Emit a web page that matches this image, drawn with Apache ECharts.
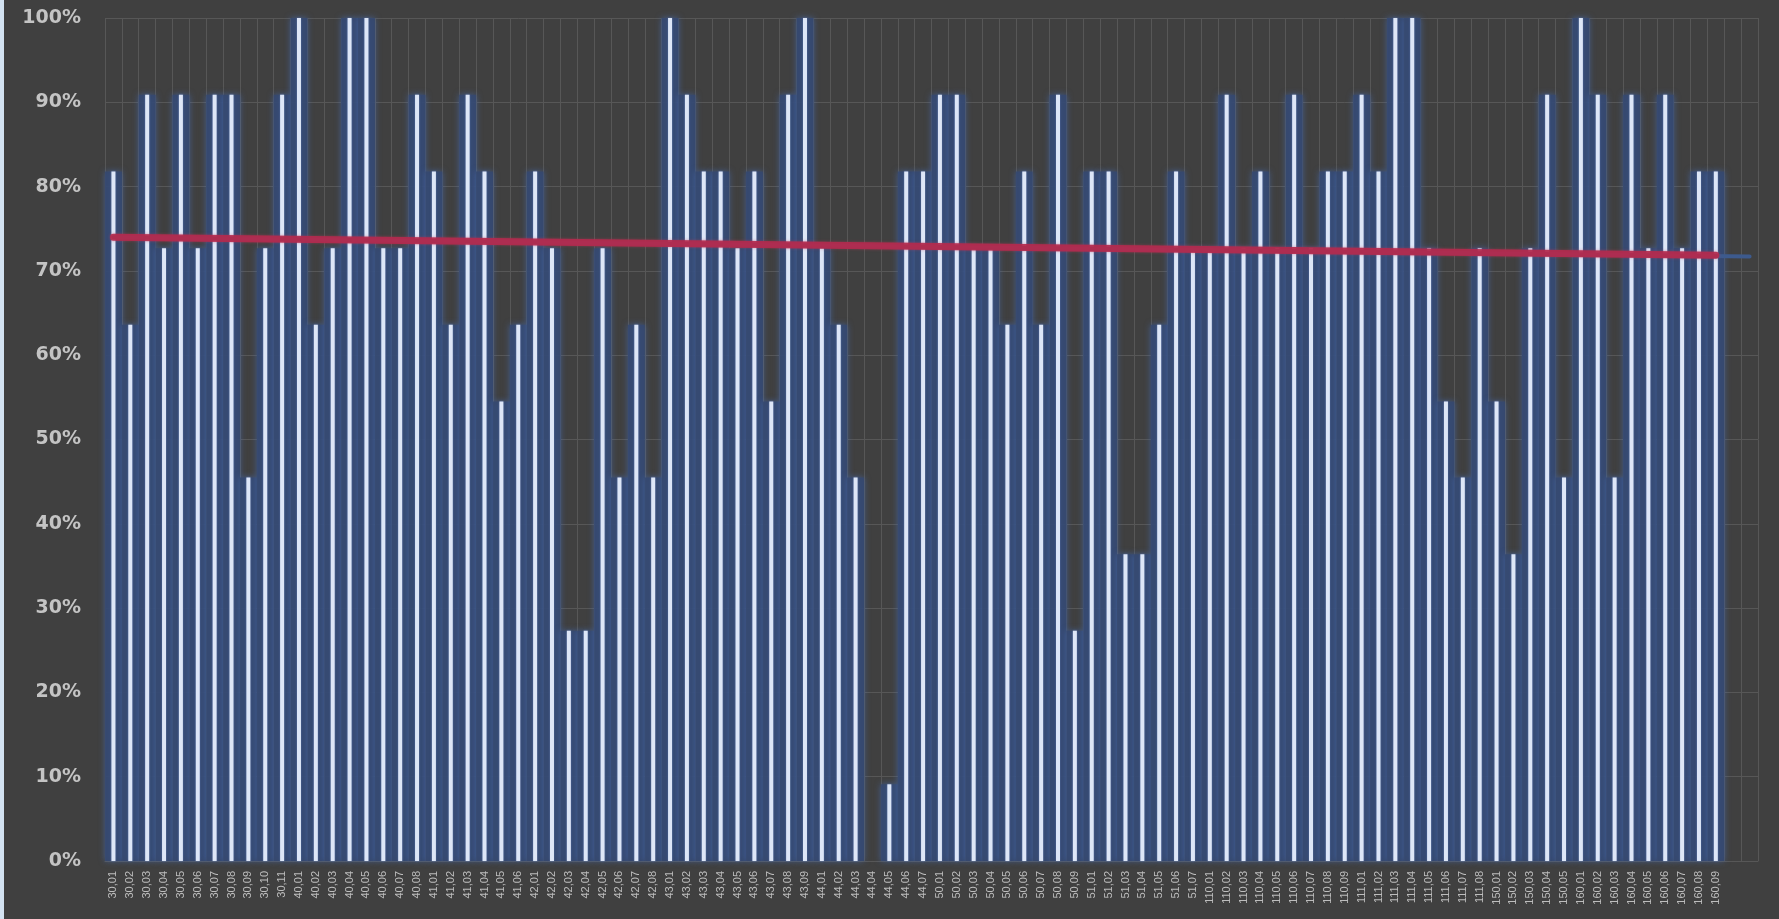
<!DOCTYPE html>
<html>
<head>
<meta charset="utf-8">
<script src="https://cdn.jsdelivr.net/npm/echarts@6/dist/echarts.min.js"></script>
<style>
  html, body { margin: 0; padding: 0; background: #404040; }
  #chart { width: 1779px; height: 919px; }
</style>
</head>
<body>
<div id="chart"></div>
<script>
// Category labels (x axis)
const categories = [
  '30,01','30,02','30,03','30,04','30,05','30,06','30,07','30,08','30,09','30,10','30,11',
  '40,01','40,02','40,03','40,04','40,05','40,06','40,07','40,08',
  '41,01','41,02','41,03','41,04','41,05','41,06',
  '42,01','42,02','42,03','42,04','42,05','42,06','42,07','42,08',
  '43,01','43,02','43,03','43,04','43,05','43,06','43,07','43,08','43,09',
  '44,01','44,02','44,03','44,04','44,05','44,06','44,07',
  '50,01','50,02','50,03','50,04','50,05','50,06','50,07','50,08','50,09',
  '51,01','51,02','51,03','51,04','51,05','51,06','51,07',
  '110,01','110,02','110,03','110,04','110,05','110,06','110,07','110,08','110,09',
  '111,01','111,02','111,03','111,04','111,05','111,06','111,07','111,08',
  '150,01','150,02','150,03','150,04','150,05',
  '160,01','160,02','160,03','160,04','160,05','160,06','160,07','160,08','160,09'
];
// Two empty trailing slots on the axis (forecast room)
const emptySlots = ['', ' '];

// Values in percent
const values = [
  81.8, 63.6, 90.9, 72.7, 90.9, 72.7, 90.9, 90.9, 45.5, 72.7, 90.9,
  100, 63.6, 72.7, 100, 100, 72.7, 72.7, 90.9,
  81.8, 63.6, 90.9, 81.8, 54.5, 63.6,
  81.8, 72.7, 27.3, 27.3, 72.7, 45.5, 63.6, 45.5,
  100, 90.9, 81.8, 81.8, 72.7, 81.8, 54.5, 90.9, 100,
  72.7, 63.6, 45.5, 0, 9.1, 81.8, 81.8,
  90.9, 90.9, 72.7, 72.7, 63.6, 81.8, 63.6, 90.9, 27.3,
  81.8, 81.8, 36.4, 36.4, 63.6, 81.8, 72.7,
  72.7, 90.9, 72.7, 81.8, 72.7, 90.9, 72.7, 81.8, 81.8,
  90.9, 81.8, 100, 100, 72.7, 54.5, 45.5, 72.7,
  54.5, 36.4, 72.7, 90.9, 45.5,
  100, 90.9, 45.5, 90.9, 72.7, 90.9, 72.7, 81.8, 81.8
];

// Trend lines (endpoints): [category index, percent]
const redTrend = [[0, 74.0], [95, 71.85]];
const blueTrend = [[0, 74.0], [97, 71.7]];

// Y tick values
const yMin = 0, yMax = 100, yStep = 10;

const axisCats = categories.concat(emptySlots);

const chart = echarts.init(document.getElementById('chart'), null, { renderer: 'canvas' });

chart.setOption({
  backgroundColor: '#404040',
  animation: false,
  graphic: [{
    type: 'rect', left: 0, top: 0, z: 100,
    shape: { x: 0, y: 0, width: 4, height: 919 },
    style: { fill: '#d3e2f1' }
  }],
  grid: { left: 105, right: 21, top: 18, bottom: 58, containLabel: false },
  xAxis: [{
    type: 'category',
    data: axisCats,
    boundaryGap: true,
    axisLine: { show: true, lineStyle: { color: '#575757', width: 1 } },
    axisTick: { show: false },
    splitLine: { show: true, interval: 0, lineStyle: { color: '#575757', width: 1 } },
    axisLabel: {
      interval: 0, rotate: 90, margin: 10,
      color: '#bdbdbd', fontSize: 11,
      fontFamily: 'Liberation Sans, Arial, sans-serif'
    }
  }, {
    type: 'category',
    data: axisCats,
    boundaryGap: true,
    show: false
  }],
  yAxis: {
    type: 'value',
    min: yMin, max: yMax, interval: yStep,
    axisLine: { show: false },
    axisTick: { show: false },
    splitLine: { show: true, lineStyle: { color: '#575757', width: 1 } },
    axisLabel: {
      formatter: '{value}%', margin: 24,
      color: '#c4c4c4', fontSize: 19, fontWeight: 'bold',
      fontFamily: 'DejaVu Sans, sans-serif'
    }
  },
  series: [
    {
      type: 'bar',
      xAxisIndex: 0,
      data: values,
      barWidth: '100%',
      barGap: '0%',
      z: 2,
      itemStyle: {
        color: 'rgba(52,72,112,0.88)',
        shadowColor: 'rgba(72,110,180,0.75)',
        shadowBlur: 6
      }
    },
    {
      type: 'bar',
      xAxisIndex: 1,
      data: values,
      barWidth: 4,
      z: 3,
      itemStyle: {
        color: '#dde6f7',
        shadowColor: 'rgba(120,150,210,0.6)',
        shadowBlur: 2
      }
    },
    {
      type: 'line',
      xAxisIndex: 0,
      data: blueTrend,
      symbol: 'none',
      z: 4,
      lineStyle: { color: '#3d5a8d', width: 4, cap: 'round' }
    },
    {
      type: 'line',
      xAxisIndex: 0,
      data: redTrend,
      symbol: 'none',
      z: 5,
      lineStyle: {
        color: 'rgba(178,42,78,0.92)', width: 7, cap: 'round',
        shadowColor: 'rgba(200,60,90,0.5)', shadowBlur: 3
      }
    }
  ]
});
</script>
</body>
</html>
